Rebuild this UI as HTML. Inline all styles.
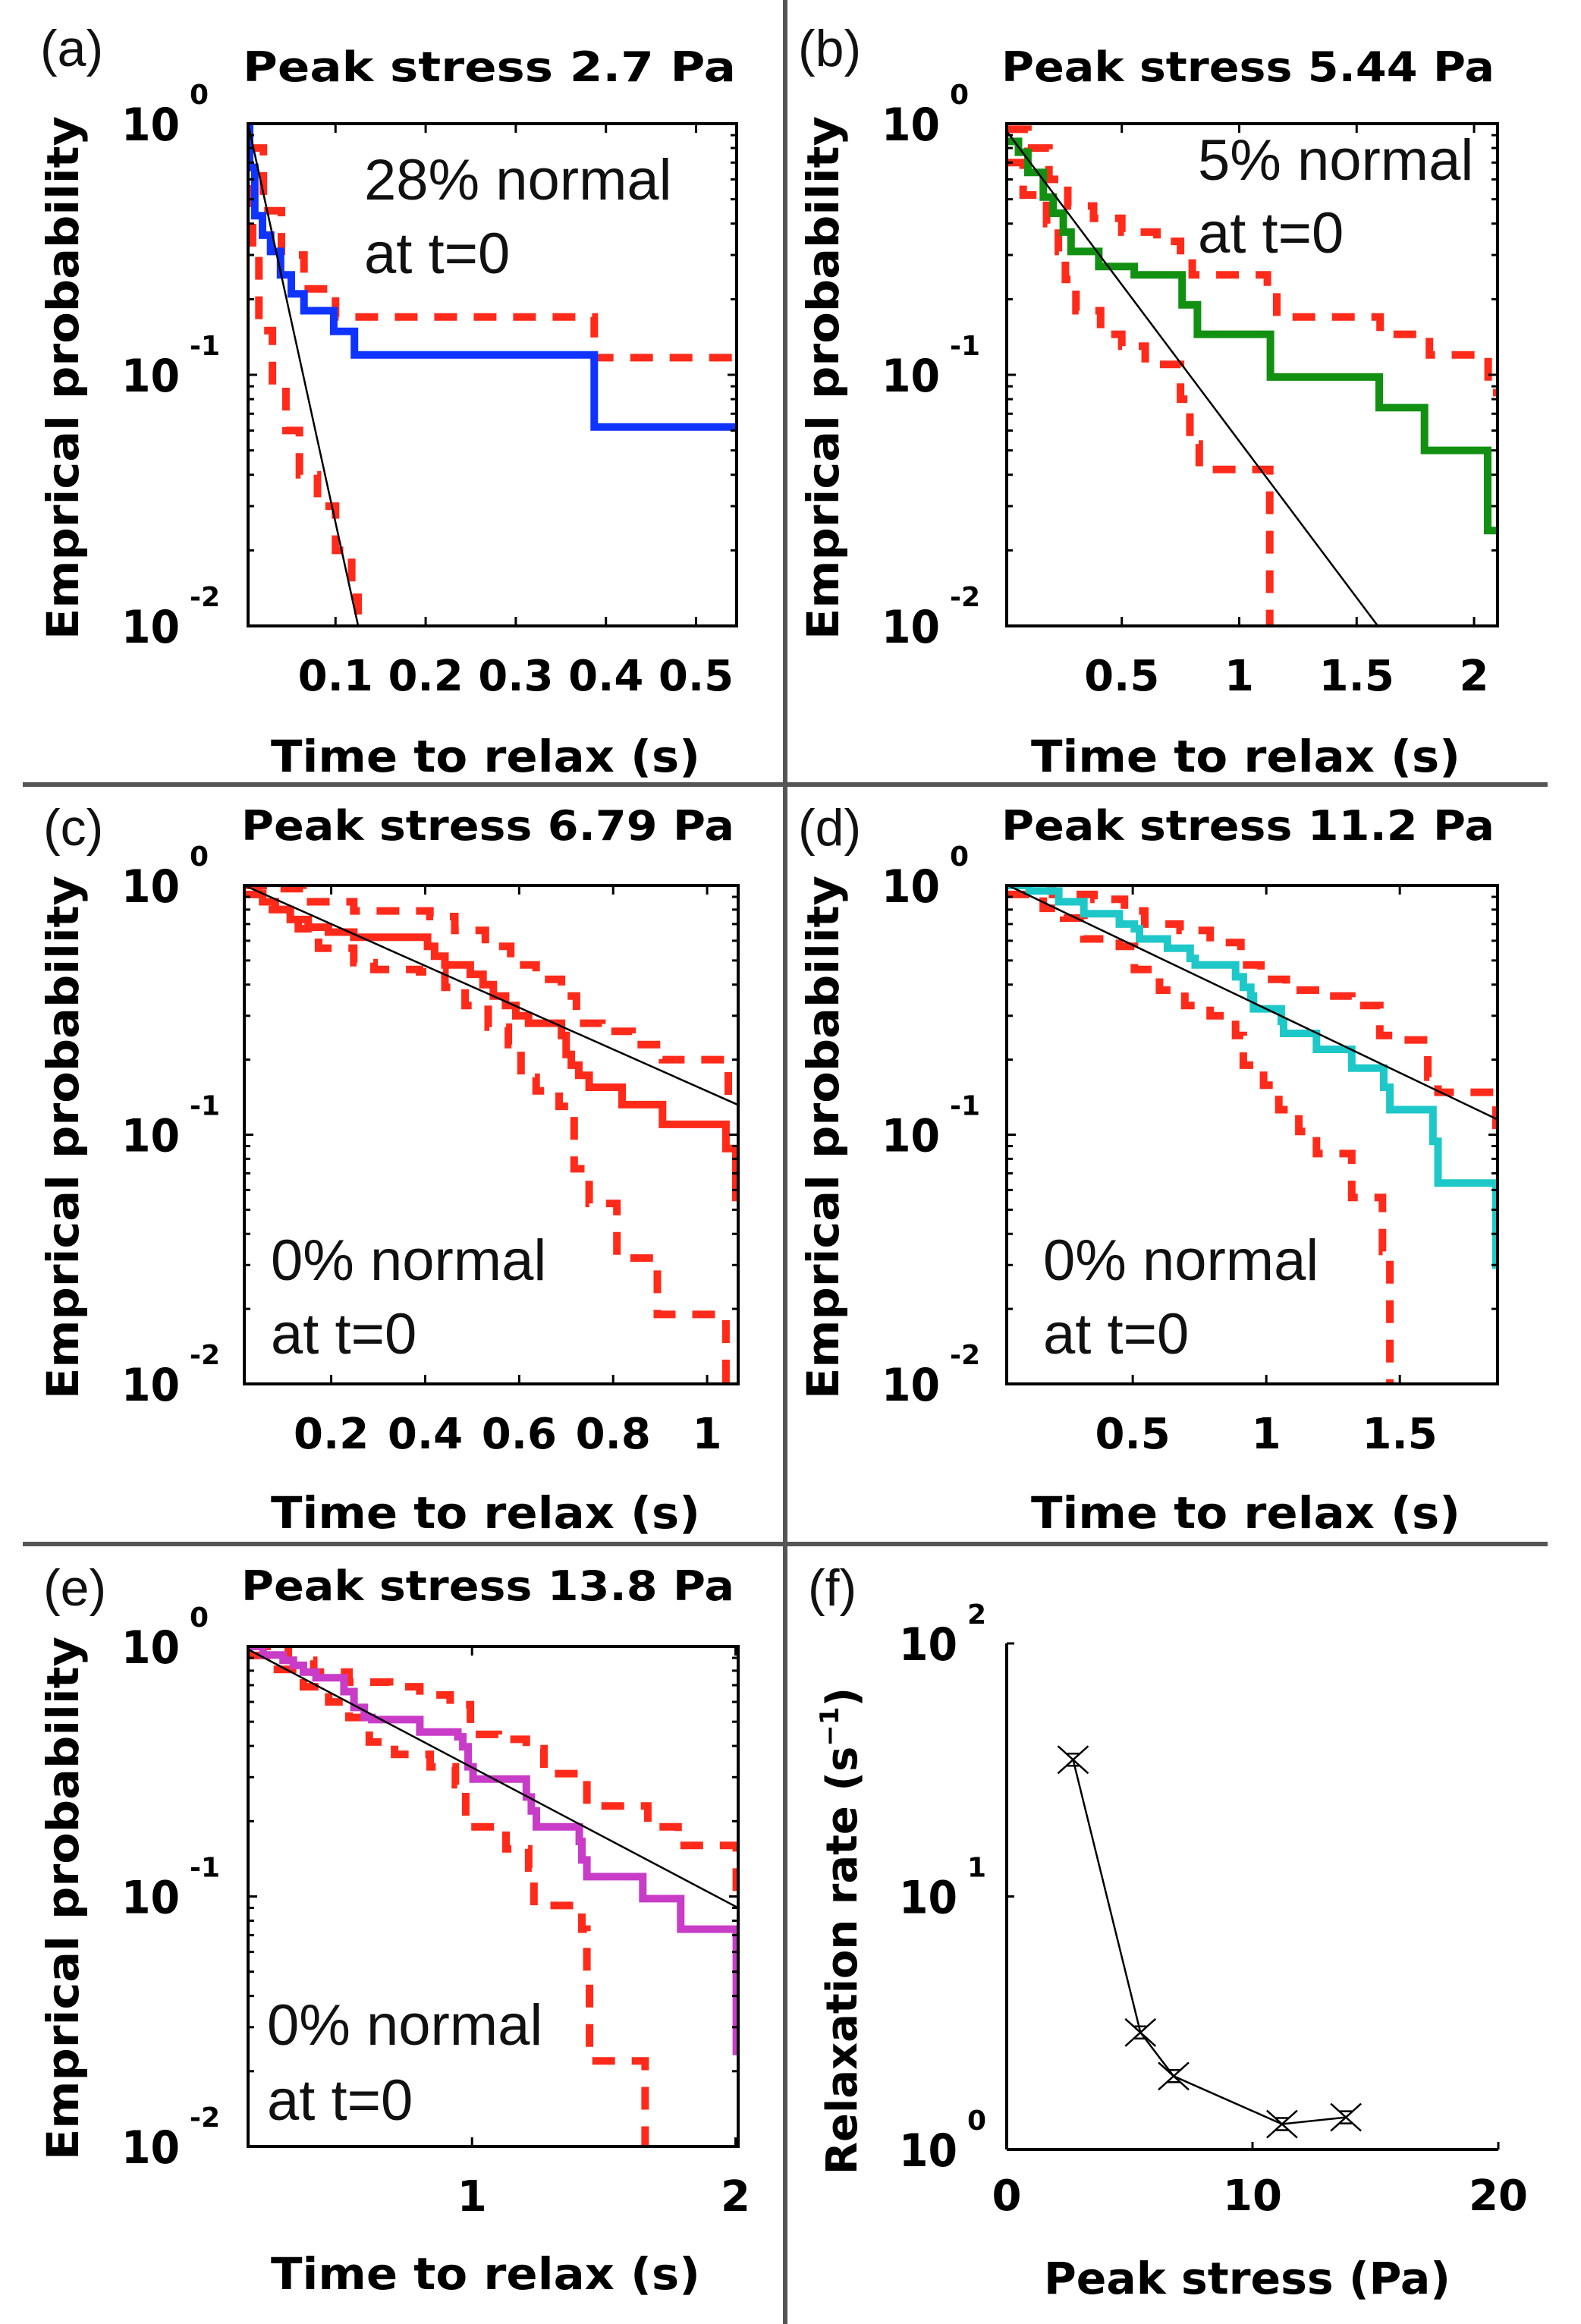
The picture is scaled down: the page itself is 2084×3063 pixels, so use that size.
<!DOCTYPE html>
<html><head><meta charset="utf-8"><title>Relaxation figure</title>
<style>
html,body{margin:0;padding:0;background:#fff;}
svg{display:block;}
.bt{font-family:"DejaVu Sans","Liberation Sans",sans-serif;font-weight:bold;fill:#000;}
.rg{font-family:"Liberation Sans","DejaVu Sans",sans-serif;fill:#111;}
</style></head>
<body>
<svg id="fig" xmlns="http://www.w3.org/2000/svg" width="2084" height="3063" viewBox="0 0 2084 3063">
<rect x="0" y="0" width="2084" height="3063" fill="#fff"/>
<g id="dividers">
<line x1="1035" y1="0" x2="1035" y2="3063" stroke="#555" stroke-width="6"/>
<line x1="30" y1="1034" x2="2040" y2="1034" stroke="#555" stroke-width="6"/>
<line x1="30" y1="2035" x2="2040" y2="2035" stroke="#555" stroke-width="6"/>
</g>
</svg>
<script>
// ---- Panel (a) data: peak stress 2.7 Pa ----
const aMainT=[0.003,0.0047,0.0104,0.019,0.028,0.039,0.051,0.065,0.098,0.121,0.387,0.547];
const aMainP=[1,0.67,0.43,0.36,0.31,0.25,0.21,0.18,0.149,0.12,0.062,0.062];
const aUpT=[0.003,0.02,0.04,0.065,0.1,0.387,0.547];
const aUpP=[0.8,0.45,0.3,0.22,0.17,0.117,0.117];
const aLoT=[0.003,0.008,0.015,0.03,0.045,0.06,0.08,0.1,0.118,0.125];
const aLoP=[0.55,0.3,0.15,0.09,0.06,0.04,0.03,0.02,0.013,0.009];
const aXTicks=[0.1,0.2,0.3,0.4,0.5];
const aXTickLabels=["0.1","0.2","0.3","0.4","0.5"];
// ---- Panel (b) data: 5.44 Pa ----
const bMainT=[0.01,0.06,0.1,0.166,0.208,0.251,0.284,0.402,0.553,0.757,0.822,1.133,1.596,1.789,2.058,2.1];
const bMainP=[0.85,0.77,0.64,0.51,0.44,0.37,0.31,0.27,0.25,0.19,0.145,0.098,0.074,0.050,0.024,0.024];
const bUpT=[0.01,0.1,0.19,0.27,0.38,0.5,0.65,0.75,0.8,1.12,1.16,1.6,1.81,2.06,2.1];
const bUpP=[0.95,0.8,0.6,0.47,0.42,0.37,0.34,0.3,0.25,0.22,0.17,0.145,0.12,0.085,0.085];
const bLoT=[0.01,0.08,0.18,0.23,0.26,0.305,0.41,0.5,0.6,0.75,0.79,0.83,1.13,1.14];
const bLoP=[0.7,0.52,0.4,0.31,0.24,0.18,0.145,0.13,0.11,0.08,0.053,0.042,0.0095,0.0095];
const bXTicks=[0.5,1,1.5,2];
const bXTickLabels=["0.5","1","1.5","2"];
// ---- Panel (c) data: 6.79 Pa ----
const cMainT=[0.015,0.043,0.054,0.081,0.113,0.151,0.194,0.248,0.405,0.42,0.442,0.496,0.523,0.545,0.571,0.593,0.62,0.69,0.70,0.711,0.727,0.749,0.819,0.905,1.04,1.061,1.066];
const cMainP=[1,0.93,0.86,0.8,0.73,0.68,0.65,0.62,0.57,0.52,0.48,0.44,0.40,0.36,0.33,0.30,0.28,0.25,0.21,0.19,0.173,0.155,0.132,0.11,0.088,0.056,0.056];
const cUpT=[0.015,0.076,0.14,0.248,0.41,0.463,0.528,0.582,0.636,0.69,0.722,0.776,0.84,0.905,1.045,1.066];
const cUpP=[1,0.97,0.86,0.79,0.75,0.66,0.57,0.48,0.42,0.36,0.28,0.26,0.23,0.2,0.144,0.144];
const cLoT=[0.015,0.054,0.13,0.173,0.248,0.291,0.388,0.442,0.485,0.534,0.577,0.604,0.636,0.685,0.717,0.749,0.808,0.894,1.04,1.066];
const cLoP=[0.92,0.8,0.67,0.56,0.49,0.46,0.45,0.39,0.33,0.27,0.23,0.17,0.15,0.13,0.073,0.053,0.032,0.019,0.009,0.009];
const cXTicks=[0.2,0.4,0.6,0.8,1];
const cXTickLabels=["0.2","0.4","0.6","0.8","1"];
// ---- Panel (d) data: 11.2 Pa ----
const dMainT=[0.028,0.112,0.223,0.317,0.45,0.506,0.525,0.63,0.715,0.734,0.885,0.914,0.942,0.952,1.056,1.065,1.188,1.32,1.44,1.463,1.624,1.643,1.86,1.866];
const dMainP=[1,0.95,0.86,0.77,0.70,0.67,0.61,0.56,0.51,0.48,0.43,0.39,0.36,0.32,0.285,0.255,0.22,0.185,0.155,0.126,0.094,0.064,0.030,0.030];
const dUpT=[0.028,0.2,0.355,0.469,0.545,0.677,0.79,0.905,0.98,1.075,1.208,1.32,1.425,1.482,1.605,1.643,1.86,1.866];
const dUpP=[1,0.92,0.88,0.79,0.70,0.66,0.59,0.48,0.42,0.38,0.36,0.33,0.25,0.24,0.17,0.148,0.092,0.092];
const dLoT=[0.028,0.165,0.241,0.317,0.45,0.506,0.6,0.695,0.79,0.885,0.914,0.99,1.047,1.122,1.188,1.32,1.435,1.463,1.6];
const dLoP=[0.92,0.81,0.74,0.61,0.57,0.46,0.38,0.33,0.30,0.25,0.19,0.158,0.126,0.103,0.084,0.056,0.034,0.0095,0.0095];
const dXTicks=[0.5,1,1.5];
const dXTickLabels=["0.5","1","1.5"];
// ---- Panel (e) data: 13.8 Pa ----
const eMainT=[0.15,0.207,0.283,0.322,0.36,0.408,0.514,0.552,0.591,0.62,0.802,0.946,0.965,0.985,1.004,1.206,1.225,1.244,1.407,1.417,1.436,1.648,1.792,2.003,2.01];
const eMainP=[1,0.925,0.88,0.84,0.79,0.75,0.66,0.57,0.52,0.51,0.455,0.435,0.397,0.33,0.295,0.25,0.22,0.19,0.166,0.14,0.12,0.098,0.074,0.024,0.024];
const eUpT=[0.15,0.303,0.399,0.533,0.687,0.802,0.917,0.994,1.1,1.206,1.273,1.407,1.436,1.667,1.782,2.003,2.01];
const eUpP=[1,0.88,0.79,0.72,0.69,0.64,0.585,0.445,0.425,0.39,0.31,0.30,0.23,0.19,0.16,0.092,0.092];
const eLoT=[0.15,0.245,0.36,0.456,0.533,0.61,0.706,0.841,0.937,0.976,1.129,1.215,1.235,1.417,1.436,1.446,1.657,1.665];
const eLoP=[0.92,0.81,0.69,0.60,0.52,0.415,0.37,0.33,0.28,0.19,0.155,0.13,0.092,0.074,0.048,0.022,0.009,0.009];
const eXTicks=[1,2];
const eXTickLabels=["1","2"];
// ---- Exponential fits (amplitude, rate) ----
const fitAmp=[1.12,0.96,1.03,1.04,1.18];
const fitRate=[37.7,2.87,1.93,1.18,1.28];
// ---- Panel (f) data ----
const fStress=[2.7,5.44,6.79,11.2,13.8];
const fRate=[34.7,2.9,1.95,1.26,1.34];
const fXTicks=[0,10,20];
const fXTickLabels=["0","10","20"];
const yExp=[0,-1,-2];
const yExpLabels=["0","-1","-2"];
const fYExp=[2,1,0];
const fYExpLabels=["2","1","0"];

const NS="http://www.w3.org/2000/svg";
const svg=document.getElementById('fig');
function mk(tag,attrs,parent){const e=document.createElementNS(NS,tag);for(const k in attrs)e.setAttribute(k,attrs[k]);(parent||svg).appendChild(e);return e;}

const panels=[
 {id:'a',L:327,R:971,T:163,B:825,x0:0.003,x1:0.545,col:'#1034ff',mT:aMainT,mP:aMainP,uT:aUpT,uP:aUpP,lT:aLoT,lP:aLoP,ticks:aXTicks,tl:aXTickLabels,
  title:'Peak stress 2.7 Pa',tcx:645,tby:107,lab:'(a)',lx:53,lby:87,ylx:83,yly:498,ytx:160,xtcx:640,xtby:1017,
  n1:'28% normal',n2:'at t=0',nx:480,nb1:263,nb2:360},
 {id:'b',L:1327,R:1974,T:163,B:825,x0:0.01,x1:2.10,col:'#129012',mT:bMainT,mP:bMainP,uT:bUpT,uP:bUpP,lT:bLoT,lP:bLoP,ticks:bXTicks,tl:bXTickLabels,
  title:'Peak stress 5.44 Pa',tcx:1645,tby:107,lab:'(b)',lx:1052,lby:87,ylx:1085,yly:498,ytx:1162,xtcx:1642,xtby:1017,
  n1:'5% normal',n2:'at t=0',nx:1579,nb1:237,nb2:333},
 {id:'c',L:322,R:973,T:1167,B:1824,x0:0.015,x1:1.066,col:'#ff2a1a',mT:cMainT,mP:cMainP,uT:cUpT,uP:cUpP,lT:cLoT,lP:cLoP,ticks:cXTicks,tl:cXTickLabels,
  title:'Peak stress 6.79 Pa',tcx:643,tby:1107,lab:'(c)',lx:57,lby:1114,ylx:83,yly:1499,ytx:160,xtcx:640,xtby:2014,
  n1:'0% normal',n2:'at t=0',nx:357,nb1:1687,nb2:1784},
 {id:'d',L:1327,R:1974,T:1167,B:1824,x0:0.028,x1:1.866,col:'#1ec8c8',mT:dMainT,mP:dMainP,uT:dUpT,uP:dUpP,lT:dLoT,lP:dLoP,ticks:dXTicks,tl:dXTickLabels,
  title:'Peak stress 11.2 Pa',tcx:1645,tby:1107,lab:'(d)',lx:1052,lby:1114,ylx:1085,yly:1499,ytx:1162,xtcx:1642,xtby:2014,
  n1:'0% normal',n2:'at t=0',nx:1375,nb1:1687,nb2:1784},
 {id:'e',L:327,R:973,T:2170,B:2829,x0:0.15,x1:2.01,col:'#c83cc8',mT:eMainT,mP:eMainP,uT:eUpT,uP:eUpP,lT:eLoT,lP:eLoP,ticks:eXTicks,tl:eXTickLabels,
  title:'Peak stress 13.8 Pa',tcx:643,tby:2109,lab:'(e)',lx:57,lby:2116,ylx:83,yly:2502,ytx:160,xtcx:640,xtby:3017,
  n1:'0% normal',n2:'at t=0',nx:352,nb1:2695,nb2:2794}
];

panels.forEach((P,pi)=>{
  const g=mk('g',{});
  
  
  const xs=v=>P.L+(v-P.x0)/(P.x1-P.x0)*(P.R-P.L);
  const ys=v=>P.T+(-Math.log10(v))/2*(P.B-P.T);
  const clip=mk('clipPath',{id:'clip'+P.id},g);
  mk('rect',{x:P.L,y:P.T,width:P.R-P.L,height:P.B-P.T},clip);
  const stairs=(T,Pv)=>{let d='M'+xs(T[0]).toFixed(1)+' '+ys(Pv[0]).toFixed(1);for(let i=1;i<T.length;i++){d+=' H'+xs(T[i]).toFixed(1)+' V'+ys(Pv[i]).toFixed(1);}return d;};
  const series=mk('g',{'clip-path':'url(#clip'+P.id+')'},g);
  const up=mk('path',{d:stairs(P.uT,P.uP),fill:'none',stroke:'#ff2a1a','stroke-width':10,'stroke-dasharray':'30 22'},series);
  
  
  const lo=mk('path',{d:stairs(P.lT,P.lP),fill:'none',stroke:'#ff2a1a','stroke-width':10,'stroke-dasharray':'30 22'},series);
  
  
  const m=mk('path',{d:stairs(P.mT,P.mP),fill:'none',stroke:P.col,'stroke-width':10},series);
  
  
  const A=fitAmp[pi],r=fitRate[pi];
  const fl=mk('line',{x1:xs(P.x0),y1:ys(A*Math.exp(-r*P.x0)),x2:xs(P.x1),y2:ys(A*Math.exp(-r*P.x1)),stroke:'#000','stroke-width':2.5},series);
  
  
  const box=mk('rect',{x:P.L,y:P.T,width:P.R-P.L,height:P.B-P.T,fill:'none',stroke:'#000','stroke-width':4},g);
  
  
  for(let dec=0;dec<2;dec++){for(let k=1;k<=10;k++){const v=k*Math.pow(10,-dec-1);const y=ys(v);const len=(k===1||k===10)?12:8;
    mk('line',{x1:P.L,y1:y,x2:P.L+len,y2:y,stroke:'#000','stroke-width':3},g);
    mk('line',{x1:P.R,y1:y,x2:P.R-len,y2:y,stroke:'#000','stroke-width':3},g);}}
  yExp.forEach((ex,i)=>{const y=ys(Math.pow(10,ex));
    const t=mk('text',{x:P.ytx,y:y+22,class:'bt','font-size':60,textLength:77,lengthAdjust:'spacingAndGlyphs'},g);t.textContent='10';
    
    
    const s=mk('text',{x:P.ytx+90,y:y-26,class:'bt','font-size':36},g);s.textContent=yExpLabels[i];
    
    });
  P.ticks.forEach((v,i)=>{const x=xs(v);
    mk('line',{x1:x,y1:P.B,x2:x,y2:P.B-12,stroke:'#000','stroke-width':3},g);
    mk('line',{x1:x,y1:P.T,x2:x,y2:P.T+12,stroke:'#000','stroke-width':3},g);
    const t=mk('text',{x:x,y:P.B+85,class:'bt','font-size':56,'text-anchor':'middle'},g);t.textContent=P.tl[i];
    
    });
  const ti=mk('text',{x:P.tcx,y:P.tby,class:'bt','font-size':54,'text-anchor':'middle',textLength:650,lengthAdjust:'spacingAndGlyphs'},g);ti.textContent=P.title;
  
  
  const la=mk('text',{x:P.lx,y:P.lby,class:'rg','font-size':68},g);la.textContent=P.lab;
  
  
  const yl=mk('text',{x:0,y:0,class:'bt','font-size':58,'text-anchor':'middle',transform:'translate('+(P.ylx+20)+','+P.yly+') rotate(-90)',textLength:690,lengthAdjust:'spacingAndGlyphs'},g);yl.textContent='Emprical probability';
  
  
  const xl=mk('text',{x:P.xtcx,y:P.xtby,class:'bt','font-size':58,'text-anchor':'middle',textLength:566,lengthAdjust:'spacingAndGlyphs'},g);xl.textContent='Time to relax (s)';
  
  
  const n1=mk('text',{x:P.nx,y:P.nb1,class:'rg','font-size':76},g);n1.textContent=P.n1;
  
  
  const n2=mk('text',{x:P.nx,y:P.nb2,class:'rg','font-size':76},g);n2.textContent=P.n2;
  
  
});

(function(){
  const L=1327,R=1975,T=2166,B=2833;
  const g=mk('g',{});
  
  
  const xs=v=>L+v/20*(R-L);
  const ys=v=>B-Math.log10(v)/2*(B-T);
  mk('line',{x1:L,y1:T,x2:L,y2:B,stroke:'#000','stroke-width':4},g);
  mk('line',{x1:L,y1:B,x2:R,y2:B,stroke:'#000','stroke-width':4},g);
  fXTicks.forEach((v,i)=>{const x=xs(v);
    mk('line',{x1:x,y1:B,x2:x,y2:B-10,stroke:'#000','stroke-width':3},g);
    const t=mk('text',{x:x,y:2913,class:'bt','font-size':56,'text-anchor':'middle'},g);t.textContent=fXTickLabels[i];
    
    });
  fYExp.forEach((ex,i)=>{const y=ys(Math.pow(10,ex));
    mk('line',{x1:L,y1:y,x2:L+10,y2:y,stroke:'#000','stroke-width':3},g);
    const t=mk('text',{x:1185,y:y+22,class:'bt','font-size':60,textLength:77,lengthAdjust:'spacingAndGlyphs'},g);t.textContent='10';
    
    
    const s=mk('text',{x:1275,y:y-26,class:'bt','font-size':36},g);s.textContent=fYExpLabels[i];
    
    });
  let d='';fStress.forEach((v,i)=>{d+=(i?' L':'M')+xs(v).toFixed(1)+' '+ys(fRate[i]).toFixed(1);});
  const ln=mk('path',{d:d,fill:'none',stroke:'#000','stroke-width':2.5},g);
  
  
  fStress.forEach((v,i)=>{const x=xs(v),y=ys(fRate[i]);
    const m=mk('path',{d:`M${x-20} ${y-18} L${x+20} ${y+18} M${x-20} ${y+18} L${x+20} ${y-18} M${x-8} ${y-8} H${x+8} M${x-8} ${y+8} H${x+8}`,fill:'none',stroke:'#000','stroke-width':2.5},g);
    
    });
  const la=mk('text',{x:1065,y:2116,class:'rg','font-size':68},g);la.textContent='(f)';
  
  
  const yl=mk('text',{x:0,y:0,class:'bt','font-size':56,'text-anchor':'middle',transform:'translate(1129,2545) rotate(-90)'},g);
  
  
  yl.appendChild(document.createTextNode('Relaxation rate (s'));
  const sup=document.createElementNS(NS,'tspan');sup.setAttribute('dy','-24');sup.setAttribute('font-size','34');sup.textContent='−1';yl.appendChild(sup);
  const cl=document.createElementNS(NS,'tspan');cl.setAttribute('dy','24');cl.textContent=')';yl.appendChild(cl);
  const xl=mk('text',{x:1644,y:3023,class:'bt','font-size':58,'text-anchor':'middle',textLength:536,lengthAdjust:'spacingAndGlyphs'},g);xl.textContent='Peak stress (Pa)';
  
  
})();
</script>
</body></html>
